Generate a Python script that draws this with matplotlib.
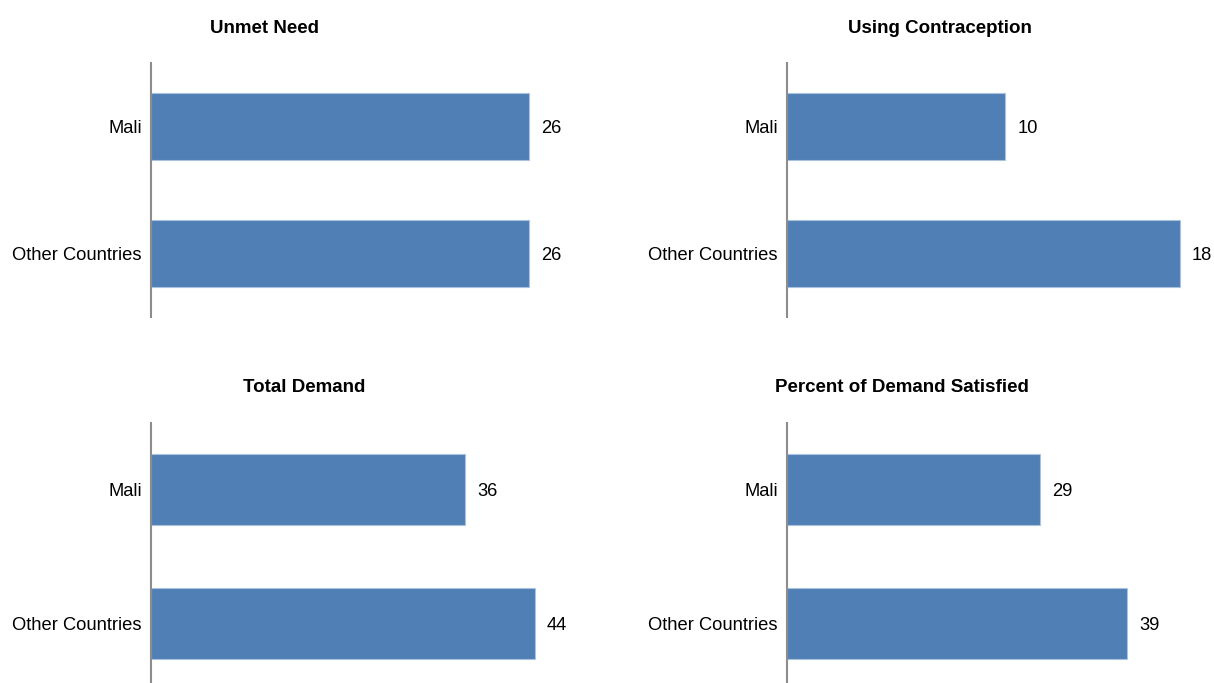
import matplotlib.pyplot as plt

plt.rcParams['font.family'] = ['Liberation Sans', 'DejaVu Sans']

countries = ['Mali', 'Other Countries']
unmet_need = [26, 26]
using_contraception = [10, 18]
total_demand = [36, 44]
demand_satisfied = [29, 39]

titles = ['Unmet Need', 'Using Contraception', 'Total Demand', 'Percent of Demand Satisfied']
values = [unmet_need, using_contraception, total_demand, demand_satisfied]

W, H = 1214, 683
bar_color = '#507fb5'
edge_color = '#a9c2e0'

# panel boxes in pixels: left, top, right, bottom, x max
panels = [
    (151, 63, 590, 317, 30.2),
    (787, 63, 1200, 317, 18.92),
    (151, 423, 590, 690, 50.3),
    (787, 423, 1200, 690, 47.37),
]
# title centre x and baseline y in pixels
title_pos = [(265, 33), (940, 33), (304, 392), (902, 392)]

fig = plt.figure(figsize=(W / 100, H / 100), dpi=100)

for i in range(4):
    l, t, r, b, xmax = panels[i]
    ax = fig.add_axes([l / W, 1 - b / H, (r - l) / W, (b - t) / H])
    ypos = [0, 1]
    ax.barh(ypos, values[i], height=0.535, color=bar_color, edgecolor=edge_color, linewidth=0.8)
    ax.set_ylim(1.5, -0.5)
    ax.set_xlim(0, xmax)
    ax.set_yticks(ypos)
    ax.set_yticklabels(countries, fontsize=13.2)
    ax.tick_params(axis='y', length=0, pad=6.5)
    ax.set_xticks([])
    for s in ['top', 'right', 'bottom']:
        ax.spines[s].set_visible(False)
    ax.spines['left'].set_color('#8c8c8c')
    ax.spines['left'].set_linewidth(1.5)
    for y, v in zip(ypos, values[i]):
        ax.annotate(str(v), (v, y), xytext=(12, 0), textcoords='offset pixels',
                    ha='left', va='center_baseline', fontsize=13.2)
    fig.text(title_pos[i][0] / W, 1 - title_pos[i][1] / H, titles[i],
             ha='center', va='baseline', fontsize=13.5, fontweight='bold')

fig.savefig('out.png', dpi=100)
